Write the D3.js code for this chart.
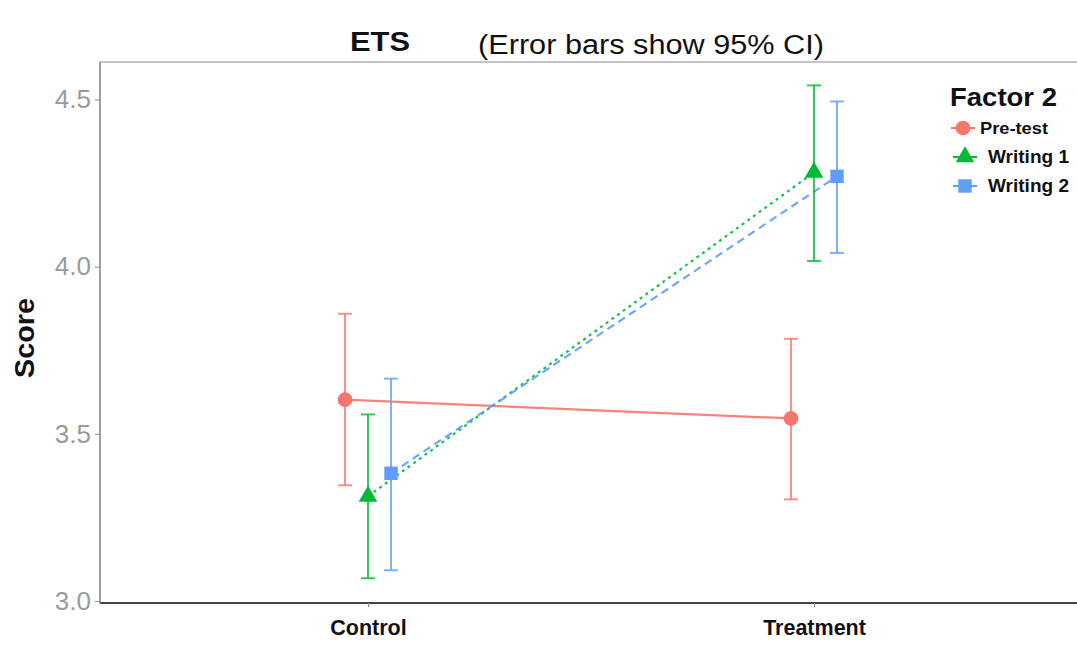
<!DOCTYPE html>
<html>
<head>
<meta charset="utf-8">
<script src="https://cdn.jsdelivr.net/npm/d3@7"></script>
<style>
  html, body { margin: 0; padding: 0; background: #fff; }
  svg { display: block; font-family: "Liberation Sans", Arial, sans-serif; }
</style>
</head>
<body>
<svg id="chart" width="1077" height="648"></svg>
<script>
// Groups on the x axis and the three measurement occasions
const groups = ["Control", "Treatment"];
const occasions = ["Pre-test", "Writing 1", "Writing 2"];

// Mean score per occasion, in group order
const meanPre = [3.602, 3.546];
const meanW1 = [3.313, 4.282];
const meanW2 = [3.382, 4.270];

// 95% CI lower / upper bounds, in group order
const lowPre = [3.346, 3.304];
const highPre = [3.859, 3.784];
const lowW1 = [3.068, 4.017];
const highW1 = [3.558, 4.542];
const lowW2 = [3.092, 4.041];
const highW2 = [3.665, 4.494];

const yTicks = [3.0, 3.5, 4.0, 4.5];

const colors = { "Pre-test": "#F8766D", "Writing 1": "#00BA38", "Writing 2": "#619CFF" };
const dashes = { "Pre-test": null, "Writing 1": "3,4", "Writing 2": "8,5" };
const shapes = { "Pre-test": d3.symbolCircle, "Writing 1": d3.symbolTriangle, "Writing 2": d3.symbolSquare };
const shapeSize = { "Pre-test": 170, "Writing 1": 150, "Writing 2": 180 };

const series = [
  { name: "Pre-test", mean: meanPre, low: lowPre, high: highPre },
  { name: "Writing 1", mean: meanW1, low: lowW1, high: highW1 },
  { name: "Writing 2", mean: meanW2, low: lowW2, high: highW2 }
];

const svg = d3.select("#chart");
const panel = { left: 100, top: 62, right: 1077, bottom: 603 };

const y = d3.scaleLinear().domain([2.994, 4.612]).range([panel.bottom, panel.top]);
const x = d3.scalePoint().domain(groups).range([368, 814]);
const dodge = d3.scalePoint().domain(occasions).range([-23, 23]);

// Panel frame: top edge
svg.append("line")
  .attr("x1", panel.left).attr("x2", panel.right)
  .attr("y1", panel.top).attr("y2", panel.top)
  .attr("stroke", "#8a8a8a").attr("stroke-width", 1.2);

// Y axis
const yAxis = svg.append("g")
  .attr("transform", `translate(${panel.left},0)`)
  .call(d3.axisLeft(y).tickValues(yTicks).tickFormat(d3.format(".1f")).tickSize(5).tickPadding(4));
yAxis.select(".domain").attr("d", `M0,${panel.top}V${panel.bottom}`).attr("stroke", "#777").attr("stroke-width", 1.4);
yAxis.selectAll(".tick line").attr("stroke", "#888");
yAxis.selectAll(".tick text")
  .attr("fill", "#9a9a9a").attr("font-size", 26).attr("font-family", "Liberation Sans, Arial, sans-serif");

// X axis
const xAxis = svg.append("g")
  .attr("transform", `translate(0,${panel.bottom})`)
  .call(d3.axisBottom(x).tickSize(4).tickPadding(13));
xAxis.select(".domain").attr("d", `M${panel.left},0H${panel.right}`).attr("stroke", "#444").attr("stroke-width", 2);
xAxis.selectAll(".tick line").attr("stroke", "#888");
xAxis.selectAll(".tick text")
  .attr("fill", "#111").attr("font-size", 21.5).attr("font-weight", "bold")
  .attr("font-family", "Liberation Sans, Arial, sans-serif");

// Y axis title
svg.append("text")
  .attr("transform", `translate(34,338) rotate(-90)`)
  .attr("text-anchor", "middle")
  .attr("font-size", 27).attr("font-weight", "bold").attr("fill", "#111")
  .attr("textLength", 80).attr("lengthAdjust", "spacingAndGlyphs")
  .text("Score");

// Title
svg.append("text")
  .attr("x", 380).attr("y", 51)
  .attr("text-anchor", "middle")
  .attr("font-size", 28).attr("font-weight", "bold").attr("fill", "#111")
  .attr("textLength", 60).attr("lengthAdjust", "spacingAndGlyphs")
  .text("ETS");
svg.append("text")
  .attr("x", 651).attr("y", 54)
  .attr("text-anchor", "middle")
  .attr("font-size", 27).attr("fill", "#111")
  .attr("textLength", 346).attr("lengthAdjust", "spacingAndGlyphs")
  .text("(Error bars show 95% CI)");

const px = (s, i) => x(groups[i]) + dodge(s.name);

// Connecting lines
const line = d3.line().x(d => d[0]).y(d => d[1]);
series.forEach(s => {
  const pts = groups.map((g, i) => [px(s, i), y(s.mean[i])]);
  svg.append("path")
    .attr("d", line(pts))
    .attr("fill", "none")
    .attr("stroke", colors[s.name])
    .attr("stroke-width", 2.2)
    .attr("stroke-opacity", 0.9)
    .attr("stroke-dasharray", dashes[s.name]);
});

// Error bars
const cap = 7;
series.forEach(s => {
  const g = svg.append("g")
    .attr("stroke", colors[s.name])
    .attr("stroke-width", 2)
    .attr("stroke-opacity", 0.8);
  groups.forEach((grp, i) => {
    const cx = px(s, i);
    g.append("line").attr("x1", cx).attr("x2", cx).attr("y1", y(s.low[i])).attr("y2", y(s.high[i]));
    g.append("line").attr("x1", cx - cap).attr("x2", cx + cap).attr("y1", y(s.low[i])).attr("y2", y(s.low[i]));
    g.append("line").attr("x1", cx - cap).attr("x2", cx + cap).attr("y1", y(s.high[i])).attr("y2", y(s.high[i]));
  });
});

// Points
series.forEach(s => {
  groups.forEach((grp, i) => {
    svg.append("path")
      .attr("d", d3.symbol().type(shapes[s.name]).size(shapeSize[s.name])())
      .attr("transform", `translate(${px(s, i)},${y(s.mean[i])})`)
      .attr("fill", colors[s.name]);
  });
});

// Legend
const legend = svg.append("g");
legend.append("text")
  .attr("x", 950).attr("y", 106)
  .attr("font-size", 25).attr("font-weight", "bold").attr("fill", "#111")
  .attr("textLength", 107).attr("lengthAdjust", "spacingAndGlyphs")
  .text("Factor 2");
const legendRows = [
  { name: "Pre-test", ky: 128, mx: 963, tx: 980, fs: 16.5, w: 68 },
  { name: "Writing 1", ky: 157, mx: 965, tx: 988, fs: 17.5, w: 81 },
  { name: "Writing 2", ky: 186, mx: 965, tx: 988, fs: 17.5, w: 81 }
];
legendRows.forEach(r => {
  legend.append("line")
    .attr("x1", r.mx - 12).attr("x2", r.mx + 12)
    .attr("y1", r.ky).attr("y2", r.ky)
    .attr("stroke", colors[r.name]).attr("stroke-width", 2);
  legend.append("path")
    .attr("d", d3.symbol().type(shapes[r.name]).size(shapeSize[r.name])())
    .attr("transform", `translate(${r.mx},${r.ky})`)
    .attr("fill", colors[r.name]);
  legend.append("text")
    .attr("x", r.tx).attr("y", r.ky + 6)
    .attr("font-size", r.fs).attr("font-weight", "bold").attr("fill", "#111")
    .attr("textLength", r.w).attr("lengthAdjust", "spacingAndGlyphs")
    .text(r.name);
});
</script>
</body>
</html>
